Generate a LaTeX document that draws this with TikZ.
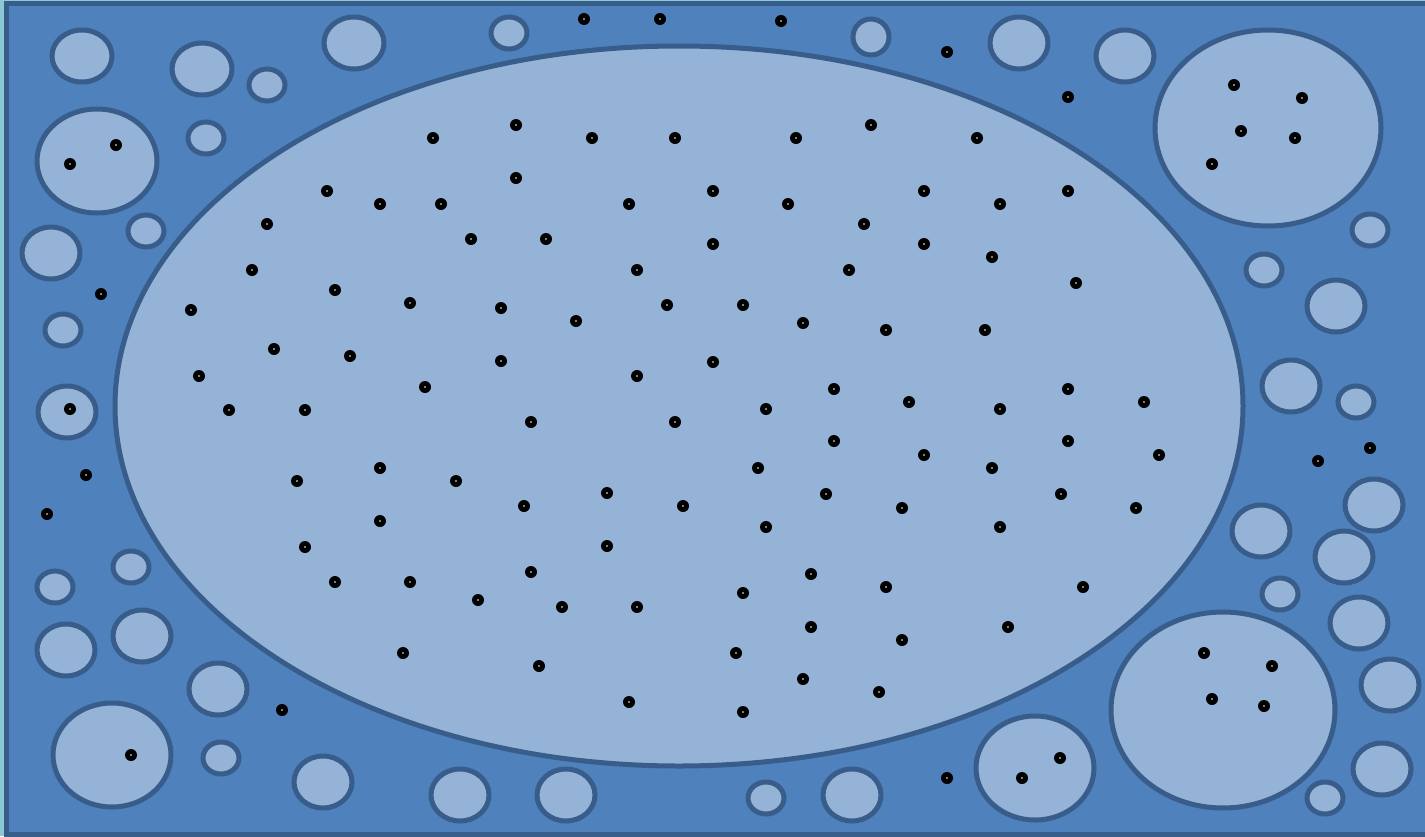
\documentclass[tikz,border=0pt]{standalone}
\usepackage{tikz}
\definecolor{pagebg}{RGB}{140,200,210}
\definecolor{tissue}{RGB}{79,129,189}
\definecolor{cellline}{RGB}{56,93,138}
\definecolor{cellfill}{RGB}{149,179,215}
\tikzset{
  cell/.style={
    draw=cellline,
    fill=cellfill,
    line width=5pt
  },
  dot/.style={
    fill=black
  },
  dotcore/.style={
    fill=white
  }
}

\begin{document}
\begin{tikzpicture}[x=1pt,y=-1pt]
  % page and tissue
  \fill[pagebg] (0,0) rectangle (1425,836);
  \useasboundingbox (0,0) rectangle (1425,836);
  \draw[draw=cellline, fill=tissue, line width=5pt] (6.5,3) rectangle (1430,834);

  % big cell
  \draw[cell] (679,406) ellipse [x radius=564pt, y radius=360pt];

  % small cells
  \foreach \x/\y/\a/\b in {
    82/56/30/26, 202/69/30/26, 267/85/18/16, 354/43/30/26, 509/33/18/16,
    871/37/18/18, 1019/43/29/26, 1125/56/29/26, 1268/128/113/98,
    97/161/60/52, 206/138/18/16, 146/231/18/16, 51/253/29/26, 63/330/18/16,
    67/412/29/26, 131/567/18/16, 55/587/18/16, 66/650/29/26, 142/636/29/26,
    218/689/29/26, 112/755/59/52, 221/758/18/16, 323/782/29/26, 460/795/29/26,
    566/795/29/26, 766/798/18/16, 852/795/29/26, 1035/768/59/52,
    1223/710/112/98, 1370/230/18/16, 1264/270/18/16, 1336/306/29/26,
    1291/386/29/26, 1356/402/18/16, 1374/505/29/26, 1261/531/29/26,
    1344/557/29/26, 1280/594/18/16, 1359/623/29/26, 1390/685/29/26,
    1382/769/29/26, 1325/798/18/16}
    \draw[cell] (\x,\y) ellipse [x radius=\a pt, y radius=\b pt];

  % particles
  \foreach \x/\y in {
    584/19, 660/19, 781/21, 947/52, 1068/97, 101/294, 86/475, 47/514,
    282/710, 947/778, 1318/461, 1370/448,
    70/164, 116/145, 70/409, 131/755, 1022/778, 1060/758,
    1234/85, 1302/98, 1241/131, 1295/138, 1212/164,
    1204/653, 1272/666, 1212/699, 1264/706,
    433/138, 516/125, 592/138, 675/138, 796/138, 871/125, 977/138,
    516/178,
    327/191, 380/204, 441/204, 629/204, 713/191, 788/204, 924/191, 1000/204, 1068/191,
    267/224, 471/239, 546/239, 713/244, 864/224, 924/244, 992/257,
    252/270, 637/270, 849/270, 1076/283,
    335/290, 410/303, 501/308, 191/310, 576/321, 667/305, 743/305, 803/323, 886/330, 985/330,
    274/349, 350/356, 501/361, 713/362, 199/376, 637/376, 425/387, 834/389, 1068/389, 909/402, 1144/402,
    229/410, 305/410, 766/409, 1000/409, 531/422, 675/422,
    834/441, 1068/441, 924/455, 1159/455,
    380/468, 758/468, 992/468, 297/481, 456/481, 607/493, 826/494, 1061/494, 524/506, 683/506, 902/508, 1136/508,
    380/521, 766/527, 1000/527, 607/546, 305/547,
    531/572, 811/574, 335/582, 410/582, 886/587, 1083/587, 743/593, 478/600, 562/607, 637/607,
    811/627, 1008/627, 902/640, 403/653, 736/653, 539/666, 803/679, 879/692, 629/702, 743/712}
  {
    \fill[dot] (\x,\y) circle [radius=6pt];
    \fill[dotcore] (\x,\y) circle [radius=0.9pt];
  }
\end{tikzpicture}
\end{document}
